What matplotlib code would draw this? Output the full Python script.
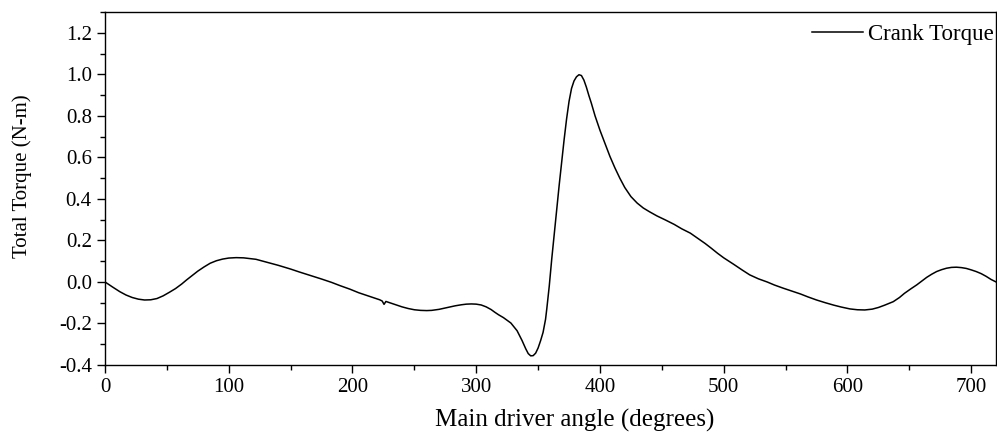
import matplotlib
matplotlib.use("Agg")
import matplotlib.pyplot as plt
from matplotlib.ticker import MultipleLocator, FormatStrFormatter

angle = [0, 6, 12, 17, 22, 27, 32, 37, 42, 47, 52, 57, 62, 66, 71, 75, 80, 85, 90, 95,
         100, 106, 112, 118, 122, 130, 140, 150, 157, 165, 175, 183, 190, 198, 205, 212,
         218, 222, 224, 225.5, 227, 230, 235, 240, 245, 250, 255, 260, 264, 270, 277,
         283, 288, 292, 296, 300, 304, 308, 312, 315, 318, 322, 328, 333, 337, 340, 342,
         344, 346, 348, 350, 352, 354, 356, 357, 359, 361, 363, 365, 367, 369, 371, 373,
         375, 377, 379, 381, 383, 385, 387, 389, 391, 393, 396, 400, 404, 408, 412, 416,
         420, 425, 430, 435, 440, 446, 453, 460, 466, 473, 479, 485, 490, 495, 500, 508,
         515, 521, 528, 535, 541, 548, 555, 562, 568, 575, 582, 589, 595, 602, 608, 614,
         620, 625, 630, 637, 642, 646, 651, 656, 660, 664, 668, 672, 676, 680, 684, 688,
         692, 696, 700, 704, 708, 712, 716, 720]
torque = [0.0, -0.024, -0.047, -0.063, -0.075, -0.083, -0.087, -0.086, -0.080, -0.067,
          -0.050, -0.032, -0.010, 0.010, 0.033, 0.052, 0.072, 0.090, 0.102, 0.110,
          0.115, 0.117, 0.116, 0.112, 0.109, 0.096, 0.080, 0.062, 0.048, 0.033, 0.014,
          -0.002, -0.018, -0.035, -0.052, -0.066, -0.078, -0.086, -0.092, -0.108,
          -0.094, -0.100, -0.110, -0.120, -0.128, -0.134, -0.137, -0.138, -0.137,
          -0.132, -0.123, -0.115, -0.110, -0.107, -0.106, -0.107, -0.111, -0.120,
          -0.133, -0.146, -0.158, -0.172, -0.198, -0.235, -0.282, -0.322, -0.345,
          -0.356, -0.355, -0.343, -0.318, -0.283, -0.243, -0.180, -0.130, -0.020,
          0.110, 0.230, 0.355, 0.465, 0.575, 0.685, 0.785, 0.870, 0.932, 0.968,
          0.988, 0.998, 0.994, 0.972, 0.938, 0.898, 0.861, 0.800, 0.730, 0.668,
          0.605, 0.550, 0.500, 0.455, 0.411, 0.380, 0.356, 0.338, 0.318, 0.298,
          0.277, 0.256, 0.235, 0.210, 0.185, 0.162, 0.138, 0.116, 0.085, 0.057,
          0.034, 0.015, 0.000, -0.015, -0.030, -0.044, -0.058, -0.072, -0.087,
          -0.100, -0.112, -0.121, -0.130, -0.134, -0.135, -0.131, -0.123, -0.112,
          -0.095, -0.075, -0.055, -0.034, -0.014, 0.004, 0.022, 0.037, 0.050, 0.059,
          0.066, 0.070, 0.071, 0.069, 0.065, 0.058, 0.050, 0.040, 0.027, 0.012, 0.000]

plt.rcParams['font.family'] = ['Liberation Serif', 'DejaVu Serif']

fig = plt.figure(figsize=(9.97, 4.37), dpi=100)
ax = fig.add_axes([0.1053, 0.1648, 0.8937, 0.8077])
ax.plot(angle, torque, color='black', lw=1.1, label='Crank Torque')
ax.set_xlim(0, 720)
ax.set_ylim(-0.4, 1.3)
ax.xaxis.set_major_locator(MultipleLocator(100))
ax.xaxis.set_minor_locator(MultipleLocator(50))
ax.yaxis.set_major_locator(MultipleLocator(0.2))
ax.yaxis.set_minor_locator(MultipleLocator(0.1))
ax.yaxis.set_major_formatter(FormatStrFormatter('%.1f'))
ax.tick_params(which='major', direction='out', length=6, width=1, labelsize=15)
ax.tick_params(which='minor', direction='out', length=3.5, width=1)
for s in ax.spines.values():
    s.set_linewidth(1.0)
ax.set_xlabel('Main driver angle (degrees)', fontsize=18)
ax.xaxis.set_label_coords(0.527, -0.125)
ax.set_ylabel('Total Torque (N-m)', fontsize=15)
ax.yaxis.set_label_coords(-0.082, 0.535)
ax.legend(loc='upper right', bbox_to_anchor=(1.007, 0.99), frameon=False,
          fontsize=16.5, handlelength=2.2, borderaxespad=-0.05, handletextpad=0.25)
fig.savefig('out.png', dpi=100)
